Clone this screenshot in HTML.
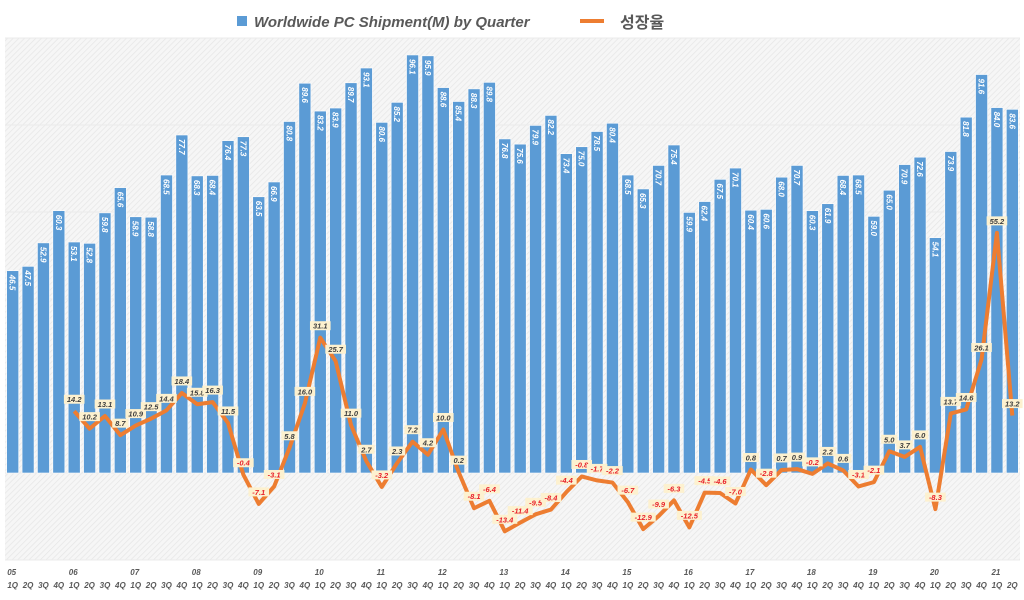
<!DOCTYPE html>
<html><head><meta charset="utf-8"><style>
body{margin:0;width:1024px;height:600px;background:#fff;overflow:hidden;font-family:"Liberation Sans","Noto Sans CJK KR",sans-serif}
svg{display:block}
</style></head><body>
<svg id="chart" width="1024" height="600" xmlns="http://www.w3.org/2000/svg">
<defs>
<pattern id="hatch" width="4" height="4" patternUnits="userSpaceOnUse" patternTransform="rotate(45)">
<rect width="4" height="4" fill="#f6f6f6"/><line x1="0" y1="0" x2="0" y2="4" stroke="#e6e6e6" stroke-width="1.5"/>
</pattern>
</defs>
<rect x="5" y="38" width="1015" height="522" fill="url(#hatch)"/>
<g id="grid"></g><g id="bars"></g><g id="line"></g><g id="labels"></g><g id="xaxis"></g>
<g>
<rect x="237" y="16" width="10" height="10" fill="#5b9bd5"/>
<text x="254" y="27" font-size="15" font-weight="bold" font-style="italic" fill="#595959">Worldwide PC Shipment(M) by Quarter</text>
<line x1="580" y1="21" x2="604" y2="21" stroke="#ed7d31" stroke-width="4"/>
<text x="620" y="28" font-size="16" font-weight="bold" fill="#595959" font-family="'Noto Sans CJK KR',sans-serif">성장율</text>
</g>
</svg>
<script>
const years=["05","06","07","08","09","10","11","12","13","14","15","16","17","18","19","20","21"];
const quarters=["1Q","2Q","3Q","4Q"];
const shipments=[46.5,47.5,52.9,60.3,53.1,52.8,59.8,65.6,58.9,58.8,68.5,77.7,68.3,68.4,76.4,77.3,63.5,66.9,80.8,89.6,83.2,83.9,89.7,93.1,80.6,85.2,96.1,95.9,88.6,85.4,88.3,89.8,76.8,75.6,79.9,82.2,73.4,75.0,78.5,80.4,68.5,65.3,70.7,75.4,59.9,62.4,67.5,70.1,60.4,60.6,68.0,70.7,60.3,61.9,68.4,68.5,59.0,65.0,70.9,72.6,54.1,73.9,81.8,91.6,84.0,83.6];
const growth=[null,null,null,null,14.2,10.2,13.1,8.7,10.9,12.5,14.4,18.4,15.8,16.3,11.5,-0.4,-7.1,-3.1,5.8,16.0,31.1,25.7,11.0,2.7,-3.2,2.3,7.2,4.2,10.0,0.2,-8.1,-6.4,-13.4,-11.4,-9.5,-8.4,-4.4,-0.8,-1.7,-2.2,-6.7,-12.9,-9.9,-6.3,-12.5,-4.5,-4.6,-7.0,0.8,-2.8,0.7,0.9,-0.2,2.2,0.6,-3.1,-2.1,5.0,3.7,6.0,-8.3,13.7,14.6,26.1,55.2,13.2];
const yTicks=[-20,0,20,40,60,80,100];
const NS="http://www.w3.org/2000/svg";
const x0=5,x1=1020,yTop=38,yBot=560,vMin=-20,vMax=100;
const n=shipments.length,step=(x1-x0)/n;
const xc=i=>x0+step*(i+0.5);
const y=v=>yBot-(v-vMin)/(vMax-vMin)*(yBot-yTop);
function mk(tag,attrs,parent){const e=document.createElementNS(NS,tag);for(const k in attrs)e.setAttribute(k,attrs[k]);parent.appendChild(e);return e;}
const G=id=>document.getElementById(id);
yTicks.forEach(t=>{const l=mk('line',{x1:x0,x2:x1,y1:y(t),y2:y(t),stroke:'#ebebeb','stroke-width':1},G('grid'));

});
shipments.forEach((v,i)=>{
const r=mk('rect',{x:xc(i)-6,y:y(v),width:12,height:y(0)-y(v),fill:'#5b9bd5',stroke:'#fff','stroke-width':0.6},G('bars'));


const t=mk('text',{transform:`translate(${xc(i)-3},${y(v)+4}) rotate(90)`,'font-size':8,'font-weight':'bold','font-style':'italic',fill:'#fff'},G('labels'));


t.textContent=v.toFixed(1);
});
let d='';growth.forEach((v,i)=>{if(v===null)return;d+=(d?'L':'M')+xc(i)+' '+y(v);});
const p=mk('path',{d:d,fill:'none',stroke:'#ed7d31','stroke-width':4,'stroke-linejoin':'round'},G('line'));


growth.forEach((v,i)=>{if(v===null)return;
const g=mk('g',{},G('labels'));


const s=v.toFixed(1),w=s.length*4.4+3,ty=y(v)-10;
mk('rect',{x:xc(i)-w/2,y:ty-6.5,width:w,height:9,fill:'#fdf1cf'},g);
const t=mk('text',{x:xc(i),y:ty+1,'text-anchor':'middle','font-size':7.5,'font-weight':'bold','font-style':'italic',fill:v<0?'#e8202a':'#404040'},g);
t.textContent=s;});
shipments.forEach((v,i)=>{
const q=mk('text',{x:xc(i),y:588,'text-anchor':'middle','font-size':8,'font-weight':'bold','font-style':'italic',fill:'#595959'},G('xaxis'));


q.textContent=quarters[i%4];
if(i%4===0){const yl=mk('text',{x:xc(i)-1,y:575,'text-anchor':'middle','font-size':8,'font-weight':'bold','font-style':'italic',fill:'#595959'},G('xaxis'));


yl.textContent=years[i/4];}
});
</script>
</body></html>
